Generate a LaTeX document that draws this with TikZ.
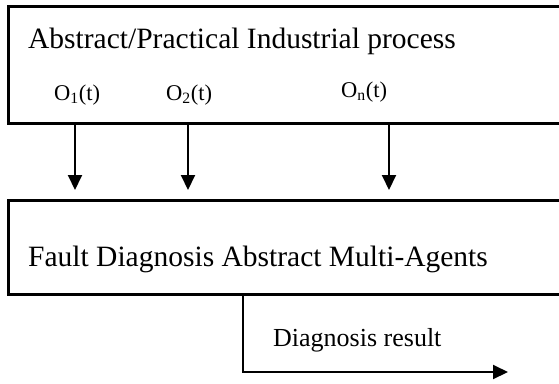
\documentclass[tikz,border=0pt]{standalone}
\usepackage{fontspec}
\setmainfont{Liberation Serif}
\usetikzlibrary{arrows.meta}
\begin{document}
\begin{tikzpicture}[x=1pt,y=-1pt,
  boxst/.style={draw,line width=3pt,inner sep=0pt,outer sep=0pt,anchor=north west},
  arr/.style={line width=2pt,-{Triangle[length=15pt,width=14pt]}},
  lbl/.style={anchor=base west,inner sep=0pt,font=\fontsize{22.5}{26}\selectfont},
  big/.style={anchor=base west,inner sep=0pt,font=\fontsize{29.5}{34}\selectfont}]
\useasboundingbox (0,0) rectangle (559,383);
\clip (0,0) rectangle (559,383);
\node[boxst,minimum width=570pt,minimum height=117.5pt] (proc) at (8.5,6) {};
\node[boxst,minimum width=570pt,minimum height=94pt] (fda) at (8.5,200.5) {};
\node[big] (t1) at (28,48.5) {Abstract/Practical Industrial process};
\node[big] (t2) at (28,266) {Fault Diagnosis Abstract Multi-Agents};
\node[lbl] (o1) at (54,100) {O\textsubscript{1}(t)};
\node[lbl] (o2) at (166,100) {O\textsubscript{2}(t)};
\node[lbl] (on) at (341,97) {O\textsubscript{n}(t)};
\node[anchor=base west,inner sep=0pt,font=\fontsize{26}{30}\selectfont] (res) at (273,346) {Diagnosis result};
\coordinate (a1) at (75,0);
\coordinate (a2) at (188,0);
\coordinate (a3) at (389,0);
\coordinate (out) at (243,0);
\coordinate (end) at (508,372);
\foreach \c in {a1,a2,a3}
  \draw[arr] (\c |- proc.south) -- ([yshift=10.5pt]\c |- fda.north);
\draw[arr] (out |- fda.south) |- (end);
\end{tikzpicture}
\end{document}
